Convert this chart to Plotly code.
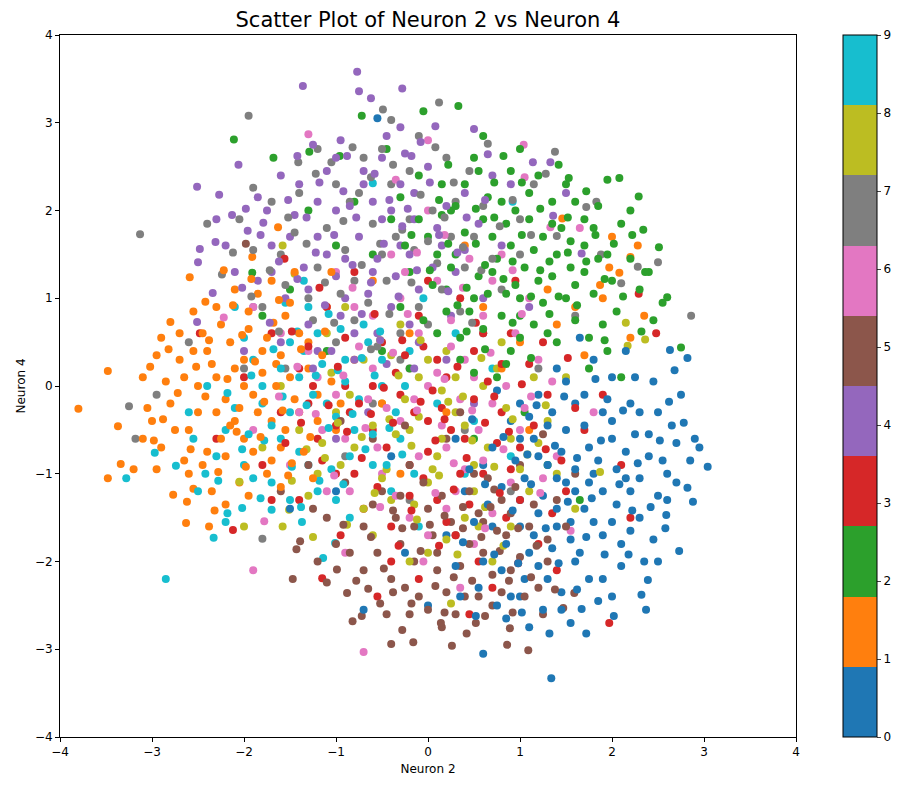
import plotly.graph_objects as go

# tab10 colours, one per class label 0..9
tab10 = ["#1f77b4", "#ff7f0e", "#2ca02c", "#d62728", "#9467bd",
         "#8c564b", "#e377c2", "#7f7f7f", "#bcbd22", "#17becf"]

# (neuron 2, neuron 4) per class.
# class_* lists: outliers and outer points.
# core_* / fill_* lists: the dense centre cannot be resolved dot by dot, so these
# are approximate placements inside each colour's visible region, not read values.
class_0 = [(1.2,-0.8),(1.5,-0.5),(1.8,-1.0),(1.0,-1.3),(1.4,-1.6),(2.0,-0.6),(2.2,-1.2),(1.6,-0.2),(0.9,-0.4),
           (1.1,-1.9),(1.7,-1.4),(2.4,-0.8),(2.1,-1.8),(1.3,-2.2),(0.7,-1.6),(0.6,-0.9),(1.9,-0.3),(2.5,-0.3),
           (2.3,-1.5),(1.5,-1.1),(1.0,-0.2),(0.8,-2.1),(1.6,-2.0),(2.6,-1.0),(1.2,-0.1),(1.9,-1.7),(0.4,-1.2),
           (1.4,0.2),(2.0,0.1),(2.2,-0.2),(1.75,-0.7),(1.05,-1.05),(0.55,-2.3),(1.45,-2.55),(1.9,-2.2),(2.35,-2.0),
           (2.7,-0.65),(2.82,-1.16),(2.59,-1.47),(2.73,-1.88),(2.39,-2.21),(2.37,-2.55),(1.67,-2.54),(1.34,-3.33),
           (0.6,-3.05),(3.04,-0.92),(2.82,0.32),(2.63,0.41),(2.45,0.05),(2.15,0.4),(1.8,0.3),(2.9,-0.6),(2.5,-1.25),
           (0.2,-1.7),(0.0,-2.5),(-0.25,-1.9),(-0.7,-2.55),(0.3,-0.6),(0.85,-2.65),(1.0,-2.4),(-1.0,-1.2),(-1.5,-1.4),
           (-0.4,-0.8),(2.0,-2.4),(1.55,-1.75),(0.35,-2.4),(2.75,-0.1),(1.2,-1.45),(2.05,-0.95),(-0.55,3.05),
           (1.35,-0.3),(0.75,-0.05),(1.65,0.55),(2.25,-0.55),(2.95,-0.7),(1.1,-2.75)]
core_0 = [(1.3,-0.9),(1.45,-0.75),(1.15,-0.6),(1.6,-1.2),(1.85,-0.85),(0.95,-0.85),(1.25,-1.25),(1.7,-0.45),
          (2.05,-1.35),(1.4,-1.4),(0.8,-1.15),(1.55,-1.55),(2.15,-0.75),(1.0,-1.6),(1.8,-1.55),(2.3,-1.05),
          (1.1,-0.35),(1.35,-1.85),(1.65,-1.9),(0.65,-1.35),(2.4,-0.55),(1.95,-0.15),(1.5,0.05),(0.85,-1.8),
          (2.2,-1.65),(1.2,-2.05),(1.75,-2.2),(2.55,-0.85),(0.5,-1.55),(1.05,-2.2),(1.9,-1.2),(2.6,-1.3),
          (2.3,-0.3),(1.45,-2.35),(0.7,-0.7),(2.1,-2.05),(1.3,-0.45),(0.45,-0.95),(1.6,-0.95),(2.0,-1.55),
          (0.9,-2.4),(2.45,-1.75),(1.15,-1.7),(1.7,-0.1),(2.65,-0.45),(0.6,-2.0),(1.85,-2.45),(2.25,0.1),
          (2.7,-1.1),(0.3,-2.05),(1.0,-0.6),(1.4,-1.05),(1.75,-1.1),(2.15,-1.05),(0.75,-2.5),(1.55,-2.7),
          (2.5,-2.0),(1.25,-2.55),(2.85,-0.85),(2.0,-0.4)]
fill_0 = [(1.38,-0.68),(1.62,-0.82),(1.12,-1.12),(1.88,-0.62),(2.08,-1.12),(1.28,-1.62),(1.52,-1.32),(0.92,-1.42),
          (1.72,-1.72),(2.28,-0.88),(2.42,-1.38),(1.18,-0.22),(1.92,-1.92),(0.72,-1.92),(1.42,-2.02),(2.18,-1.92),
          (0.98,-2.02),(2.52,-0.62),(1.82,0.08),(2.12,-0.28),(2.62,-0.18),(0.62,-1.12),(1.48,-0.12),(2.32,-2.38),
          (1.62,-2.32),(0.82,-0.58),(1.02,-2.58),(2.78,-0.42),(2.58,-1.62),(1.32,-2.82),(0.52,-2.62),(1.72,-2.82),
          (2.02,-2.62),(0.38,-1.78),(2.88,-1.32),(2.22,-1.42),(1.08,-0.78),(1.78,-1.28),(0.48,-0.38),(2.68,0.18)]
class_1 = [(-1.9,-0.1),(-2.1,0.2),(-1.7,-0.4),(-2.3,-0.3),(-1.5,0.1),(-2.0,-0.6),(-1.8,0.4),(-2.5,0.0),(-2.2,-0.8),
           (-1.6,-0.7),(-1.4,-0.3),(-2.6,-0.5),(-2.4,0.4),(-1.95,0.65),(-1.3,0.5),(-2.8,-0.2),(-2.7,0.3),(-1.75,-1.0),
           (-2.05,-1.1),(-1.2,-0.1),(-1.55,0.8),(-2.35,-1.2),(-2.9,-0.7),(-3.1,0.1),(-3.0,-0.4),(-2.25,0.7),(-1.1,0.9),
           (-1.0,-0.5),(-1.85,1.05),(-2.45,-0.9),(-3.8,-0.26),(-3.48,-1.05),(-3.48,0.17),(-2.59,1.24),(-2.63,-1.56),
           (-2.38,-1.6),(-2.77,-1.24),(-2.55,-1.17),(-3.34,-0.89),(-3.37,-0.46),(-2.8,0.73),(-2.42,0.96),(-2.55,0.85),
           (-1.63,1.81),(-1.91,1.47),(-3.2,-0.95),(-2.95,0.35),(-3.1,-0.6),(-2.15,-0.45),(-1.65,0.25),(-2.0,0.0),
           (-2.3,0.1),(-2.65,-0.85),(-0.8,0.3),(-0.5,-0.2),(-0.2,0.6),(0.2,-0.3),(0.6,0.9),(1.0,0.5),(1.3,1.1),
           (1.9,1.0),(2.2,0.55),(1.6,0.9),(2.35,0.8),(0.4,1.6),(-0.6,1.2),(1.1,-0.5),(0.8,0.2),(2.0,1.7),(1.7,0.35),
           (-1.05,1.3),(-0.3,-1.0),(1.4,0.7),(1.46,1.91),(2.28,1.6),(2.2,1.47),(1.97,1.35),(2.08,1.29),(1.87,1.15)]
core_1 = [(-1.85,-0.3),(-2.0,0.3),(-1.65,0.0),(-2.2,-0.15),(-1.45,-0.15),(-1.75,0.55),(-2.35,0.25),(-1.9,-0.75),
          (-2.5,-0.3),(-1.55,-0.5),(-2.1,-0.4),(-1.3,0.2),(-2.65,0.1),(-1.7,-0.85),(-2.25,-0.6),(-1.95,0.85),
          (-1.4,0.6),(-2.45,0.6),(-1.2,-0.4),(-2.75,-0.5),(-1.6,0.35),(-2.15,0.5),(-1.8,0.15),(-2.05,-0.25),
          (-2.4,-0.75),(-1.35,-0.75),(-2.85,0.05),(-1.15,0.35),(-2.3,0.9),(-1.5,0.95),(-2.6,-1.0),(-1.95,-1.25),
          (-2.2,-1.35),(-1.25,-1.05),(-2.95,-0.95),(-3.05,-0.25),(-1.05,0.05),(-2.55,0.4),(-1.7,1.2),(-2.1,1.1),
          (-2.7,0.6),(-1.45,1.3),(-0.95,-0.2),(-1.6,-1.15),(-2.9,0.55)]
fill_1 = [(-1.78,-0.18),(-2.18,0.08),(-1.58,-0.28),(-2.42,-0.12),(-1.88,0.28),(-2.08,-0.52),(-1.68,0.72),
          (-2.28,-0.98),(-1.48,-0.88),(-2.58,-0.72),(-2.02,0.58),(-1.38,0.42),(-2.72,-0.08),(-1.82,-0.58),
          (-2.38,0.52),(-2.12,0.92),(-1.28,-0.58),(-2.88,-0.38),(-1.62,0.98),(-2.52,0.22),(-1.98,-0.92),
          (-2.32,-1.42),(-1.92,1.22),(-2.82,0.42),(-1.52,-1.02),(-3.02,0.22),(-2.62,-1.32),(-1.12,0.62),
          (-2.22,1.32),(-2.98,-0.62)]
class_2 = [(0.7,1.3),(0.5,1.0),(0.9,1.6),(1.2,1.2),(0.3,1.5),(1.0,0.8),(0.6,1.9),(1.4,1.5),(0.2,1.1),(0.8,2.1),
           (1.1,1.9),(1.5,1.0),(0.0,1.7),(-0.2,1.3),(1.7,1.3),(0.4,2.3),(1.3,0.6),(0.9,0.4),(1.8,1.8),(-0.4,1.9),
           (0.1,0.6),(1.6,2.1),(-0.1,2.4),(1.9,0.7),(0.5,2.6),(1.2,2.4),(-0.6,1.5),(2.0,1.2),(0.75,0.1),(1.05,-0.3),
           (-0.8,2.1),(0.35,0.3),(2.2,2.0),(1.55,1.65),(0.85,1.05),(0.15,1.95),(-0.3,0.9),(-1.0,1.6),(-1.3,2.0),
           (-1.5,1.1),(0.33,3.19),(2.08,2.37),(2.51,1.58),(2.6,1.01),(2.75,0.44),(2.34,1.78),(2.29,2.16),(2.36,1.3),
           (1.53,2.37),(-0.72,3.08),(-0.05,3.13),(-2.11,2.81),(-1.68,2.6),(-1.29,2.67),(-0.96,2.62),(-1.91,1.29),
           (1.0,2.7),(0.6,2.85),(-0.45,2.7),(2.45,0.75),(1.75,0.2),(2.1,0.1),(1.3,-0.9),(0.5,-0.6),(-0.2,0.2),
           (1.65,-1.3),(2.55,0.95),(1.95,2.35),(0.25,2.0),(1.35,1.85),(-1.8,0.8),(-1.1,0.4),(-0.5,0.4),(1.85,1.45)]
core_2 = [(0.75,1.45),(0.55,1.25),(0.95,1.15),(1.15,1.55),(0.4,1.75),(0.85,1.85),(1.35,1.25),(1.55,1.35),
          (0.25,1.35),(0.65,2.15),(1.05,1.35),(1.25,0.95),(0.45,0.85),(1.7,1.6),(0.1,1.5),(0.95,2.0),(1.45,1.8),
          (0.6,0.65),(1.8,1.05),(1.15,0.7),(0.3,2.05),(1.6,0.75),(0.8,0.8),(1.35,2.1),(-0.1,1.9),(0.55,2.45),
          (1.95,1.5),(2.05,0.85),(1.0,0.55),(0.2,0.85),(1.5,2.3),(1.85,2.05),(0.05,1.15),(-0.25,1.6),(0.7,1.7),
          (1.25,1.7),(1.7,1.9),(0.9,2.45),(1.4,0.5),(2.2,1.45),(0.35,0.55),(1.95,0.4),(2.3,1.1),(0.15,2.3),
          (-0.3,2.15),(0.5,0.15),(1.1,2.2),(2.1,1.85),(1.6,1.15),(0.85,0.25),(1.75,0.55),(-0.05,0.75),(1.0,1.0),
          (2.4,1.3),(0.65,1.05)]
fill_2 = [(0.62,1.38),(0.82,1.22),(1.02,1.72),(0.42,1.12),(1.32,1.42),(0.72,1.92),(1.12,1.02),(1.52,1.52),
          (0.22,1.62),(0.92,0.72),(1.42,1.02),(0.52,2.02),(1.72,1.42),(1.22,2.02),(0.32,0.92),(1.62,0.92),
          (0.72,2.32),(1.92,1.22),(0.12,2.12),(1.82,1.72),(1.02,2.32),(0.42,0.62),(2.02,1.62),(1.32,0.82),
          (0.62,0.42),(1.52,1.92),(2.12,1.02),(0.02,1.32),(0.82,2.62),(1.72,2.22),(2.22,1.72),(1.12,0.32),
          (2.32,0.62),(1.42,2.52),(-0.18,1.72),(0.22,2.52),(1.92,0.52),(0.92,1.42),(0.52,1.62),(1.22,1.32)]
class_3 = [(0.0,-0.4),(-0.3,-0.1),(0.4,-0.6),(-0.6,-0.5),(0.2,0.1),(0.6,-1.0),(-0.9,0.0),(-0.2,-0.9),(0.8,-0.3),
           (-1.2,-0.6),(0.5,0.4),(-0.5,0.5),(1.0,-0.7),(-1.0,-1.0),(0.1,-1.3),(1.3,-0.1),(-1.4,0.2),(-0.7,-1.4),
           (0.9,0.6),(-0.1,0.8),(1.5,-1.2),(-1.6,-0.3),(0.3,-1.7),(1.2,-1.8),(-0.4,-2.0),(0.7,-2.3),(-1.1,0.9),
           (1.7,-0.5),(-1.8,-0.9),(0.0,1.2),(1.97,-2.7),(-2.12,-1.64),(-1.15,-2.19),(2.48,0.6),(2.29,1.05),
           (-2.48,0.6),(-1.56,1.45),(-0.8,1.3),(0.45,-2.6),(-0.55,-2.4),(1.9,-0.1),(2.1,-0.9),(-2.0,0.1),(-1.4,-1.3),
           (0.85,-1.5),(-0.25,0.35),(0.15,-0.25),(0.65,0.05),(-0.85,-0.3),(0.35,1.0),(1.1,0.25),(-1.3,-0.2),
           (1.45,-0.85),(-0.05,-1.05),(0.95,1.2),(2.2,-1.5),(-2.3,-0.6),(-1.7,0.6)]
core_3 = [(-0.15,-0.3),(0.25,-0.5),(-0.45,-0.7),(0.1,0.3),(-0.75,-0.2),(0.5,-0.15),(-0.35,0.15),(0.75,-0.65),
          (-1.0,-0.45),(0.35,-1.0),(-0.6,0.0),(0.9,-0.95),(-0.2,-1.25),(1.15,-0.45),(-1.3,0.45),(0.6,0.6),
          (-0.9,0.55),(0.0,-0.75),(-1.55,-0.65),(1.35,-1.45),(-0.55,-1.15),(0.45,-1.35),(-1.15,-0.85),(1.0,-1.3),
          (-0.05,0.45),(0.2,-1.55),(0.8,0.25),(-1.25,0.0),(-0.8,-1.0),(1.6,-0.25),(0.05,-0.05),(-0.4,-1.6),
          (1.25,0.5),(-1.7,-1.3),(0.55,-2.0),(-0.1,-2.2),(1.4,-2.1),(-0.95,-1.7)]
fill_3 = [(-0.08,-0.18),(0.18,-0.38),(-0.38,-0.42),(0.32,0.22),(-0.62,-0.32),(0.62,-0.42),(-0.28,0.52),
          (0.42,-0.82),(-0.88,-0.52),(0.08,-0.62),(-0.48,-0.02),(0.72,-0.12),(-1.08,-0.22),(0.28,-1.18),
          (-0.72,-0.82),(0.88,-0.52),(-0.18,-1.42),(1.02,0.02),(-1.38,-0.42),(0.52,0.72),(-0.98,0.22),
          (0.12,-1.82),(-0.58,0.82),(1.28,-0.72),(-1.48,0.62),(0.78,-1.22),(-0.32,-1.82),(1.52,0.32),
          (-1.18,1.12),(0.98,-2.02)]
class_4 = [(-0.6,1.3),(-0.3,1.6),(-0.9,1.0),(-0.4,2.0),(-1.1,1.5),(-0.1,1.1),(-0.7,2.3),(-1.3,1.1),(0.1,1.8),
           (-0.8,0.6),(-1.5,1.7),(-0.2,0.7),(0.3,1.3),(-1.0,2.0),(-0.5,2.6),(-1.7,1.3),(0.4,2.2),(-1.2,0.4),(0.0,2.5),
           (-1.4,2.3),(0.6,1.0),(-0.45,0.25),(-1.9,0.9),(0.2,0.3),(-0.95,2.8),(-1.6,0.5),(0.8,1.6),(-0.3,2.95),
           (-0.77,3.58),(-1.36,3.42),(-0.28,3.39),(-0.75,3.36),(-0.62,3.28),(-2.51,2.27),(-2.27,2.18),(-2.06,2.52),
           (-2.13,1.95),(-2.48,1.56),(-2.5,1.41),(-2.31,1.64),(-2.34,1.06),(-1.96,1.77),(-1.79,1.86),(-2.51,0.73),
           (0.5,2.93),(0.08,2.96),(0.65,2.64),(1.14,2.55),(1.33,2.55),(1.36,1.94),(1.67,1.51),(1.5,2.2),(-1.1,2.45),
           (-0.15,2.2),(0.9,2.3),(-2.1,1.3),(-0.65,-0.3),(0.5,-0.2),(-1.0,-0.6),(-1.85,2.15),(-1.25,2.75),(1.1,0.9),
           (-2.0,0.4),(0.25,0.8)]
core_4 = [(-0.55,1.45),(-0.75,1.7),(-0.35,1.25),(-1.0,1.25),(-0.5,1.9),(-0.85,2.05),(-1.2,1.7),(-0.2,1.5),
          (-0.65,1.05),(-1.35,1.35),(-0.15,1.9),(-0.95,0.8),(-0.4,0.9),(-1.55,1.0),(0.05,1.35),(-0.7,2.45),
          (-1.2,2.1),(-0.3,2.3),(-1.7,1.6),(-1.05,0.4),(0.15,1.6),(-0.55,0.6),(-1.45,1.95),(-0.9,1.45),(-0.6,2.1),
          (-1.3,0.7),(0.2,2.05),(-0.1,0.5),(-0.8,0.3),(-1.6,2.4),(0.4,1.55),(-1.85,1.2),(-0.25,2.65),(-1.0,2.6),
          (-2.2,1.6),(-1.75,2.0),(0.55,1.85),(-0.45,2.85),(-2.3,1.9),(0.7,2.4),(-1.25,0.2),(-0.15,0.2)]
fill_4 = [(-0.48,1.62),(-0.82,1.38),(-0.28,1.82),(-1.02,1.72),(-0.62,1.18),(-0.42,2.12),(-1.22,1.52),
          (-0.78,1.92),(-0.12,1.32),(-1.42,1.22),(-0.92,2.22),(-0.22,2.02),(-1.12,0.92),(-0.58,2.42),
          (-1.62,1.42),(0.12,1.72),(-0.72,0.82),(-1.32,1.92),(-0.32,1.02),(-1.52,2.12),(0.32,1.52),(-0.88,2.62),
          (-1.82,1.72),(0.02,2.32),(-1.18,2.32),(-0.52,0.52),(0.42,1.92),(-1.72,0.72),(-0.18,2.62),(-2.02,1.12),
          (-1.42,2.62),(0.62,2.12),(-1.98,2.02),(0.22,1.08),(-0.08,2.78)]
class_5 = [(0.3,-1.7),(0.0,-1.4),(0.6,-1.9),(-0.3,-1.8),(0.8,-1.3),(0.1,-2.1),(-0.5,-1.2),(0.5,-1.0),(-0.1,-2.4),
           (0.9,-2.1),(-0.7,-1.6),(0.4,-2.4),(1.1,-1.6),(-0.2,-0.9),(0.7,-2.5),(1.3,-2.0),(-0.9,-1.1),(0.2,-0.6),
           (-0.4,-2.2),(1.0,-0.9),(-1.1,-1.5),(0.55,-1.45),(1.4,-1.3),(-0.6,-0.6),(0.15,-2.75),(0.26,-2.96),
           (0.86,-2.95),(1.09,-3.01),(0.52,-2.7),(0.14,-2.7),(0.89,-2.76),(1.47,-2.53),(1.59,-2.36),(-0.4,-2.94),
           (-0.16,-2.92),(-0.82,-2.68),(-0.72,-2.62),(-0.88,-2.36),(-0.65,-2.31),(-0.38,-2.35),(-1.47,-2.2),
           (-1.1,-2.24),(-0.99,-2.09),(-1.43,-1.86),(-1.39,-1.77),(-1.98,1.62),(1.2,-2.3),(-0.15,-1.6),(0.75,-1.65),
           (-1.3,-0.9),(1.6,-1.0),(0.35,-0.3),(-0.95,-0.4),(1.25,-0.55),(-1.6,-1.2),(-0.25,-0.45)]
core_5 = [(0.25,-1.55),(0.45,-1.8),(0.05,-1.7),(-0.15,-2.0),(0.6,-1.55),(0.35,-2.05),(-0.35,-1.5),(0.85,-1.7),
          (0.15,-1.25),(-0.55,-1.9),(0.7,-2.15),(0.45,-1.2),(-0.25,-2.3),(1.0,-1.95),(0.2,-2.35),(-0.6,-1.35),
          (1.15,-1.35),(0.9,-1.45),(-0.05,-1.1),(0.55,-2.4),(-0.45,-2.6),(0.3,-2.6),(-0.85,-1.9),(1.05,-2.4),
          (0.65,-1.05),(-0.2,-2.6),(1.3,-1.75),(-1.0,-1.8),(0.0,-2.55),(0.8,-2.35),(-0.7,-2.1),(1.25,-2.6),
          (-1.2,-2.0),(0.1,-1.9),(0.95,-1.15),(-0.3,-1.25),(1.5,-1.6),(-1.25,-1.4)]
fill_5 = [(0.38,-1.62),(0.18,-1.48),(0.58,-1.72),(-0.08,-1.88),(0.78,-1.88),(0.28,-2.18),(-0.28,-1.62),
          (0.68,-1.38),(0.08,-2.28),(-0.48,-2.08),(0.98,-1.62),(0.48,-2.22),(-0.18,-2.48),(0.88,-2.22),
          (0.38,-1.38),(-0.62,-1.72),(1.18,-1.82),(0.18,-2.58),(-0.38,-1.42),(0.62,-2.62),(-0.78,-2.22),
          (1.12,-2.18),(0.02,-1.58),(0.72,-1.18),(-0.28,-2.78),(0.42,-2.82),(-0.92,-1.58),(1.38,-2.32),
          (-0.52,-2.48),(0.92,-2.58)]
class_6 = [(0.0,0.0),(-0.3,-0.4),(0.4,0.3),(-0.6,0.2),(0.2,-0.7),(0.7,-0.2),(-0.9,-0.6),(-0.1,0.6),(0.6,0.8),
           (-0.5,-1.0),(1.0,-0.5),(-1.2,0.1),(0.3,-1.2),(-0.8,0.9),(1.2,0.3),(-0.2,-1.5),(0.9,-1.1),(-1.4,-0.3),
           (0.1,1.2),(-0.4,1.5),(0.8,1.5),(-1.1,-1.2),(1.4,-0.8),(-1.6,0.6),(0.5,-1.8),(0.0,2.0),(-0.7,-3.03),
           (-1.9,-2.1),(1.04,2.75),(0.0,2.8),(-1.3,2.87),(1.65,1.8),(1.33,1.81),(1.05,2.38),(-1.9,0.9),(-2.22,0.78),
           (-1.78,-1.54),(0.7,-1.45),(-0.35,2.35),(1.55,-1.65),(-0.9,-1.9),(0.25,0.45),(-0.15,-0.15),(0.55,-0.5),
           (-0.65,-0.15),(1.1,1.0),(-1.0,1.3),(-0.05,-2.0),(1.8,-0.3),(-1.9,-0.5),(0.35,-2.3)]
core_6 = [(0.1,0.15),(-0.2,0.2),(0.35,-0.15),(-0.45,-0.25),(0.15,-0.45),(-0.1,-0.8),(0.5,0.1),(-0.75,0.45),
          (0.6,-0.85),(-0.55,-0.7),(0.85,0.0),(-1.0,-0.1),(0.25,0.75),(-0.3,1.0),(0.4,-0.95),(-0.85,-1.2),
          (1.05,-0.25),(-1.3,0.4),(0.2,-1.4),(0.95,0.6),(-0.6,0.8),(-1.15,-0.5),(1.25,-1.05),(0.7,1.2),(-0.25,1.3),
          (0.45,1.45),(-0.35,-1.25),(-1.5,-0.9),(1.35,0.05),(0.0,-1.7)]
fill_6 = [(0.18,0.08),(-0.12,-0.28),(0.48,-0.28),(-0.38,0.38),(0.28,-0.88),(-0.68,-0.48),(0.68,0.38),
          (-0.22,0.82),(0.82,-0.72),(-0.92,0.12),(0.08,-1.22),(-0.52,-1.38),(1.12,-0.12),(-1.22,-0.32),
          (0.38,1.12),(-0.82,1.12),(1.22,-1.22),(-1.42,0.22),(0.62,-1.62),(-0.12,1.52),(1.02,0.82),(-1.02,-1.02),
          (0.92,1.32),(-1.62,-0.12),(0.18,1.72)]
class_7 = [(-0.5,1.5),(-0.2,1.9),(-0.8,1.2),(0.1,1.4),(-1.1,1.8),(-0.4,2.3),(0.3,2.1),(-1.3,1.0),(-0.7,2.6),
           (0.5,1.7),(-1.6,1.5),(-0.1,0.9),(0.8,1.1),(-1.0,0.5),(0.2,2.6),(-1.4,2.2),(0.6,0.6),(-1.8,0.9),(1.0,1.9),
           (-0.3,0.3),(-1.2,2.7),(0.4,-0.5),(-0.6,-0.2),(1.2,0.2),(-0.9,-0.8),(-2.0,0.2),(-3.13,1.73),(-1.95,3.08),
           (2.86,0.8),(-2.24,1.27),(-1.9,2.26),(-1.41,2.55),(-0.49,3.15),(-0.4,3.03),(-3.25,-0.23),(-3.18,-0.6),
           (-2.95,-0.1),(-1.8,-1.74),(0.12,3.23),(1.38,2.67),(0.65,2.76),(1.83,2.1),(1.72,2.04),(2.5,1.41),
           (2.28,1.36),(2.1,1.17),(1.88,1.5),(1.4,1.71),(-2.4,1.85),(-1.55,0.2),(0.9,-1.2),(-0.2,-1.3),(1.6,0.8),
           (-2.6,0.5),(-0.85,2.1),(0.0,1.65)]
core_7 = [(-0.35,1.7),(-0.6,1.85),(-0.15,1.55),(-0.9,1.55),(0.05,2.0),(-0.45,1.2),(-1.2,1.35),(-0.75,2.2),
          (0.25,1.7),(-1.0,2.3),(-0.2,2.45),(0.4,1.35),(-1.45,1.75),(-0.65,0.95),(0.6,2.05),(-1.25,0.75),(0.0,0.7),
          (-0.95,1.05),(0.45,2.45),(-1.55,1.15),(0.15,1.1),(-0.5,2.7),(-1.7,2.1),(0.7,1.45),(-0.3,0.6),(-1.05,2.55),
          (1.0,1.5),(-0.8,0.75),(-1.9,1.55),(0.35,0.85),(-0.1,2.85),(1.15,2.3),(-2.05,1.9),(-0.55,0.45)]
fill_7 = [(-0.28,1.78),(-0.52,1.62),(-0.72,1.38),(-0.08,2.18),(-0.92,1.88),(-0.38,2.52),(0.18,1.92),
          (-1.12,1.18),(-0.62,2.38),(0.38,1.58),(-1.32,1.62),(-0.18,1.18),(0.58,1.32),(-1.02,0.72),(-1.52,1.92),
          (0.28,2.32),(-0.82,2.72),(0.78,1.82),(-1.72,1.32),(-0.42,0.82),(0.08,2.72),(-1.22,2.42),(0.92,2.12),
          (-1.92,1.02),(-0.62,0.42),(1.12,1.72),(-2.12,1.52),(0.48,0.72),(-1.62,0.62),(1.28,2.42)]
class_8 = [(-0.2,-0.5),(0.1,-0.8),(-0.5,-0.2),(0.3,-0.3),(-0.8,-0.7),(0.0,-1.1),(0.5,-0.9),(-0.4,-1.3),(-1.0,-0.3),
           (0.6,0.0),(-0.7,0.3),(0.2,0.4),(-1.2,-1.0),(0.9,-0.6),(-0.1,0.1),(-1.4,-0.5),(0.4,-1.5),(1.1,-1.2),
           (-0.6,-1.7),(0.8,0.5),(-0.3,0.7),(1.3,-0.4),(-1.6,0.0),(0.0,-1.9),(-2.0,-1.6),(-1.58,-1.6),(-1.25,-1.72),
           (-1.51,-1.41),(-2.05,-1.09),(0.25,-2.48),(1.87,-0.98),(2.36,0.53),(2.15,0.72),(2.17,0.46),(-1.58,1.6),
           (-1.45,1.28),(-0.9,0.9),(1.5,0.1),(0.7,-2.0),(-1.8,-0.7),(0.15,-0.05),(-0.45,-0.95),(1.6,-1.4),(-1.1,0.6)]
core_8 = [(-0.1,-0.35),(0.15,-0.6),(-0.35,-0.55),(0.4,-0.45),(-0.6,-0.45),(0.05,-0.95),(-0.25,-0.15),(0.65,-0.7),
          (-0.5,-1.05),(0.3,0.1),(-0.85,-0.1),(0.85,-0.25),(-0.15,-1.35),(0.5,-1.2),(-0.95,-0.9),(0.75,0.2),
          (-0.4,0.35),(1.0,-0.95),(-1.15,-0.65),(0.2,-1.75),(-0.7,-1.4),(1.2,-0.65),(0.0,0.3),(-1.3,-1.25),
          (0.55,-1.6),(1.4,-1.0),(-0.2,-2.0),(0.9,-1.6),(-1.05,0.15),(1.15,0.1)]
fill_8 = [(-0.18,-0.68),(0.22,-0.18),(-0.42,-0.38),(0.48,-0.62),(-0.72,-0.58),(0.12,-1.02),(-0.32,0.12),
          (0.72,-0.92),(-0.58,-1.22),(0.38,-0.12),(-0.98,-0.42),(0.92,-0.38),(-0.12,-1.52),(0.62,-1.38),
          (-1.12,-0.82),(0.58,0.32),(-0.52,0.52),(1.08,-0.78),(-1.32,-0.72),(0.32,-1.92),(-0.88,-1.58),
          (1.28,-0.22),(-0.08,0.52),(-1.48,-1.08),(0.82,-1.82)]
class_9 = [(-1.1,-0.2),(-1.4,0.1),(-0.8,-0.5),(-1.6,-0.6),(-0.9,0.3),(-1.3,-0.9),(-0.5,0.0),(-1.8,-0.2),(-0.6,-0.9),
           (-1.2,0.6),(-2.0,-0.9),(-0.3,-0.6),(-1.5,0.5),(-0.7,0.7),(-2.2,-0.5),(-1.0,-1.3),(-0.2,0.4),(-1.9,0.3),
           (-0.4,-1.2),(0.1,-0.2),(-1.7,-1.1),(-2.4,0.0),(0.3,0.6),(-0.1,-1.6),(0.5,-0.4),(-2.85,-2.2),(-3.28,-1.05),
           (-2.97,-0.76),(-2.33,-1.73),(-2.42,-1.0),(-2.74,-0.91),(-2.18,-1.45),(-2.02,-1.39),(-2.2,-1.55),
           (-1.7,-1.41),(-1.37,-1.55),(-1.14,-1.96),(-1.01,-1.79),(-0.6,2.31),(0.92,2.1),(-2.6,-0.3),(-1.35,1.2),
           (0.7,0.2),(-0.05,1.0),(-2.1,0.9),(0.4,-1.0),(-0.85,-1.5),(-1.55,0.95),(-2.55,-0.6),(0.9,-0.8)]
core_9 = [(-1.0,-0.35),(-1.25,-0.1),(-0.75,-0.15),(-1.5,-0.3),(-1.15,0.25),(-0.6,-0.55),(-1.4,-0.75),(-0.9,0.05),
          (-1.7,-0.45),(-0.5,0.3),(-1.95,-0.55),(-1.05,-0.95),(-0.65,0.5),(-1.35,0.4),(-1.8,0.0),(-0.35,-0.3),
          (-2.1,-0.25),(-0.85,-0.8),(-1.6,0.2),(-1.2,-1.2),(-0.45,-0.9),(-2.0,0.55),(-0.25,0.0),(-1.9,-1.05),
          (-0.95,0.65),(-2.3,-0.8),(-1.5,-1.3),(-0.15,-1.0),(-2.5,-1.2),(-1.3,0.9)]
fill_9 = [(-1.08,-0.48),(-1.32,-0.22),(-0.82,-0.32),(-1.58,-0.12),(-1.22,0.12),(-0.68,-0.72),(-1.48,-0.92),
          (-0.98,0.18),(-1.78,-0.62),(-0.58,0.12),(-2.02,-0.72),(-1.18,-1.08),(-0.72,0.32),(-1.42,0.62),
          (-1.92,0.12),(-0.42,-0.48),(-2.18,-0.08),(-0.92,-1.12),(-1.68,0.42),(-1.38,-1.38),(-0.28,-0.78),
          (-2.28,-1.08),(-0.52,0.62),(-1.82,-1.28),(-1.08,0.82)]

classes = [class_0 + core_0 + fill_0, class_1 + core_1 + fill_1, class_2 + core_2 + fill_2,
           class_3 + core_3 + fill_3, class_4 + core_4 + fill_4, class_5 + core_5 + fill_5,
           class_6 + core_6 + fill_6, class_7 + core_7 + fill_7, class_8 + core_8 + fill_8,
           class_9 + core_9 + fill_9]
tick_values = list(range(10))

# interleave the classes so no colour is drawn entirely on top
xs, ys, labels = [], [], []
longest = max(len(c) for c in classes)
for i in range(longest):
    for lab, pts in enumerate(classes):
        if i < len(pts):
            xs.append(pts[i][0])
            ys.append(pts[i][1])
            labels.append(lab)

# stepped colourscale so the bar shows ten flat bands
colorscale = []
for k, col in enumerate(tab10):
    colorscale.append([k / 10, col])
    colorscale.append([(k + 1) / 10, col])

fig = go.Figure(go.Scatter(
    x=xs, y=ys, mode="markers",
    marker=dict(
        size=8, color=labels, cmin=0, cmax=9, colorscale=colorscale,
        line=dict(width=0),
        colorbar=dict(
            tickvals=tick_values, ticks="outside", ticklen=4,
            thickness=34, len=1, lenmode="fraction", y=0.5, yanchor="middle",
            x=1.0639, xanchor="left", xpad=0, ypad=0,
            outlinewidth=1, outlinecolor="black",
            tickfont=dict(size=12, color="black"),
        ),
    ),
    showlegend=False,
))

axis_style = dict(
    range=[-4, 4], dtick=1, showgrid=False, zeroline=False,
    showline=True, mirror=True, linecolor="black", linewidth=1,
    ticks="outside", ticklen=4, tickcolor="black",
    tickfont=dict(size=12, color="black"),
)

# the page adds an 8px body margin, so the figure is offset by that
fig.update_layout(
    width=905, height=790,
    margin=dict(l=52, r=117, t=27, b=61),
    paper_bgcolor="white", plot_bgcolor="white",
    font=dict(family="DejaVu Sans", color="black"),
    title=dict(text="Scatter Plot of Neuron 2 vs Neuron 4", x=(52 + 788) / 2 / 905,
               xanchor="center", y=1 - 12 / 790, yanchor="middle", yref="container",
               font=dict(size=21, color="black")),
    xaxis=dict(title=dict(text="Neuron 2", font=dict(size=12), standoff=6), **axis_style),
    yaxis=dict(title=dict(text="Neuron 4", font=dict(size=12), standoff=6), **axis_style),
)

fig.write_html("out.html")
